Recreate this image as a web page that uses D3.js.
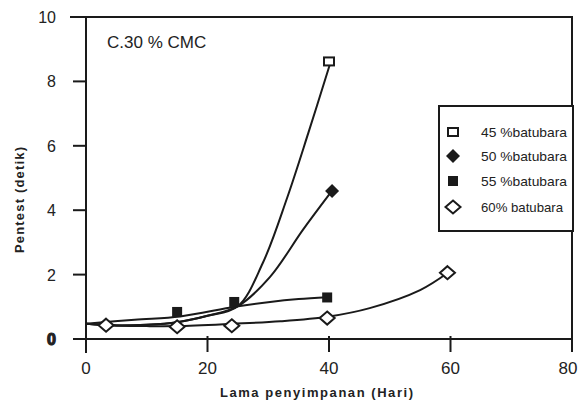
<!DOCTYPE html>
<html><head><meta charset="utf-8">
<script src="https://cdn.jsdelivr.net/npm/d3@7"></script>
<style>body{margin:0;background:#fff}svg{display:block}text{font-family:"Liberation Sans",Arial,sans-serif;fill:#222}</style>
</head><body><svg id="c" width="579" height="401"></svg>
<script>
// ---- data ----
const xTicks = [0, 20, 40, 60, 80];
const yTicks = [0, 2, 4, 6, 8, 10];
const seriesNames = ["45 %batubara", "50 %batubara", "55 %batubara", "60% batubara"];
const pts45 = [[40, 8.62]];
const pts50 = [[40.5, 4.6]];
const pts55 = [[15, 0.84], [24.4, 1.15], [39.7, 1.29]];
const pts60 = [[3.3, 0.43], [15, 0.38], [24, 0.41], [39.7, 0.65], [59.5, 2.06]];
// trend lines
const trend45 = [[0, 0.47], [5, 0.42], [10, 0.44], [15, 0.52], [20, 0.72], [25, 1.02], [29.1, 2.36], [33.1, 4.38], [36.6, 6.4], [40.1, 8.5]];
const trend50 = [[0, 0.47], [5, 0.42], [10, 0.44], [15, 0.52], [20, 0.72], [25, 1.02], [30.3, 1.93], [35.7, 3.39], [40.2, 4.53]];
const trend55 = [[0, 0.47], [8, 0.6], [15.5, 0.7], [24.5, 1.0], [30.3, 1.15], [35, 1.24], [39.7, 1.3]];
const trend60 = [[0, 0.47], [5, 0.42], [10, 0.4], [15, 0.4], [24, 0.47], [32, 0.55], [40, 0.7], [46.7, 0.96], [55, 1.52], [59.5, 2.05]];
const title = "C.30 % CMC";
const xTitle = "Lama penyimpanan (Hari)";
const yTitle = "Pentest (detik)";

const svg = d3.select("#c");
const x = d3.scaleLinear().domain([0, 80]).range([86, 572]);
const y = d3.scaleLinear().domain([0, 10]).range([339, 17]);

// frame
const g = svg.append("g").attr("stroke", "#1a1a1a").attr("stroke-width", 2).attr("fill", "none");
g.append("line").attr("x1", 70).attr("x2", x(80) + 1).attr("y1", y(10)).attr("y2", y(10));
g.append("line").attr("x1", x(80)).attr("x2", x(80)).attr("y1", y(10)).attr("y2", 352);
g.append("line").attr("x1", x(0)).attr("x2", x(0)).attr("y1", y(10)).attr("y2", 353);
g.append("line").attr("x1", 73).attr("x2", x(80)).attr("y1", y(0)).attr("y2", y(0));
// y ticks
yTicks.filter(d => d > 0 && d < 10).forEach(d => {
  g.append("line").attr("x1", 73).attr("x2", x(0)).attr("y1", y(d)).attr("y2", y(d));
});
// x ticks
xTicks.filter(d => d > 0 && d < 80).forEach(d => {
  g.append("line").attr("x1", x(d)).attr("x2", x(d)).attr("y1", 336).attr("y2", 352);
});

// tick labels
svg.selectAll(".yl").data(yTicks).join("text")
  .attr("x", 56).attr("y", d => y(d) + 6).attr("text-anchor", "end")
  .attr("font-size", 16).attr("font-weight", d => d === 0 ? "bold" : "normal")
  .attr("stroke", d => d === 0 ? "#222" : "none").attr("stroke-width", 1.2)
  .text(d => d);
svg.selectAll(".xl").data(xTicks).join("text")
  .attr("x", d => d === 80 ? 568 : x(d)).attr("y", 374).attr("text-anchor", "middle")
  .attr("font-size", 17).text(d => d);

// titles
svg.append("text").attr("x", 107).attr("y", 48).attr("font-size", 17).text(title);
svg.append("text").attr("x", 220).attr("y", 397)
  .attr("font-size", 13).attr("font-weight", "bold")
  .attr("textLength", 193).attr("lengthAdjust", "spacing").text(xTitle);
svg.append("text").attr("transform", "translate(24,253) rotate(-90)")
  .attr("font-size", 13).attr("font-weight", "bold")
  .attr("textLength", 106).attr("lengthAdjust", "spacing").text(yTitle);

// trend lines
const line = d3.line().x(d => x(d[0])).y(d => y(d[1])).curve(d3.curveCatmullRom.alpha(0.5));
[trend45, trend50, trend55, trend60].forEach(t => {
  svg.append("path").attr("d", line(t)).attr("fill", "none").attr("stroke", "#1a1a1a").attr("stroke-width", 2);
});

// markers
function marker(sel, type, cx, cy) {
  if (type === 0) sel.append("rect").attr("x", cx - 5).attr("y", cy - 4).attr("width", 10).attr("height", 8)
    .attr("fill", "#fff").attr("stroke", "#1a1a1a").attr("stroke-width", 2);
  if (type === 1) sel.append("path").attr("d", `M${cx},${cy - 7}L${cx + 7},${cy}L${cx},${cy + 7}L${cx - 7},${cy}Z`)
    .attr("fill", "#1a1a1a");
  if (type === 2) sel.append("rect").attr("x", cx - 5).attr("y", cy - 5).attr("width", 10).attr("height", 10)
    .attr("fill", "#1a1a1a");
  if (type === 3) sel.append("path").attr("d", `M${cx},${cy - 6.5}L${cx + 7.5},${cy}L${cx},${cy + 6.5}L${cx - 7.5},${cy}Z`)
    .attr("fill", "#fff").attr("stroke", "#1a1a1a").attr("stroke-width", 2);
}
[pts45, pts50, pts55, pts60].forEach((pts, i) => pts.forEach(p => marker(svg, i, x(p[0]), y(p[1]))));

// legend
svg.append("rect").attr("x", 439).attr("y", 106).attr("width", 134).attr("height", 125)
  .attr("fill", "#fff").attr("stroke", "#1a1a1a").attr("stroke-width", 2);
const rowsY = [132, 156, 181, 207];
seriesNames.forEach((n, i) => {
  marker(svg, i, 453, rowsY[i]);
  svg.append("text").attr("x", 481).attr("y", rowsY[i] + 5).attr("font-size", 13)
    .attr("textLength", i === 3 ? 82 : 86).attr("lengthAdjust", "spacingAndGlyphs").text(n);
});
</script></body></html>
